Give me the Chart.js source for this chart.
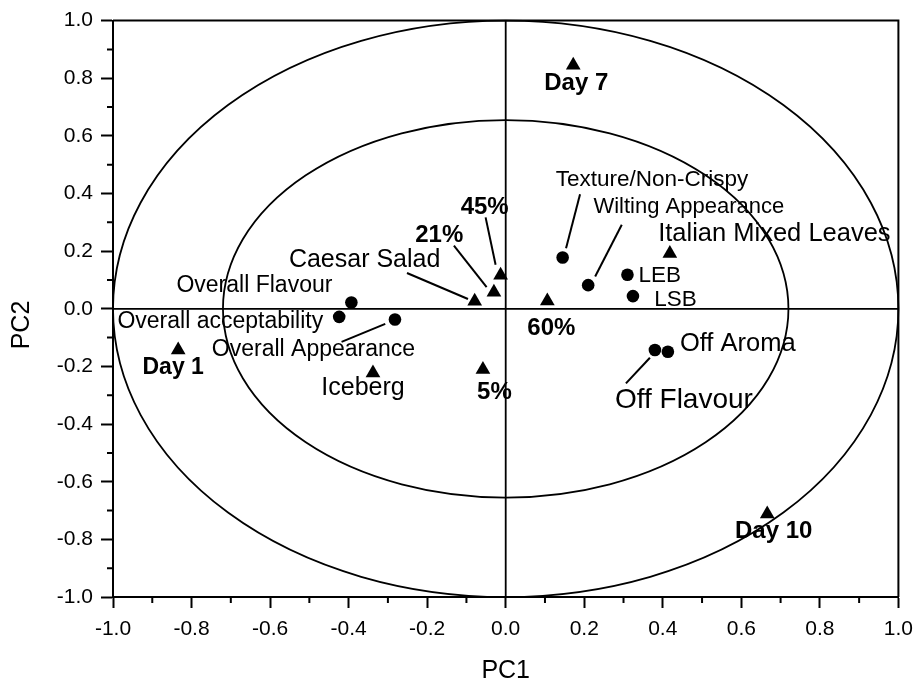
<!DOCTYPE html>
<html>
<head>
<meta charset="utf-8">
<script src="https://cdn.jsdelivr.net/npm/chart.js@4.4.1/dist/chart.umd.min.js"></script>
<style>
  html, body { margin: 0; padding: 0; background: #ffffff; }
  canvas { display: block; }
</style>
</head>
<body>
<canvas id="pca" width="922" height="688"></canvas>
<script>
// Sensory attribute loadings (filled circles)
const attributeNames = ['Overall Flavour', 'Overall acceptability', 'Overall Appearance',
  'Texture/Non-Crispy', 'Wilting Appearance', 'LEB', 'LSB', 'Off Flavour', 'Off Aroma'];
const attributePC1 = [-0.393, -0.424, -0.282, 0.145, 0.210, 0.310, 0.324, 0.380, 0.413];
const attributePC2 = [0.022, -0.028, -0.037, 0.178, 0.082, 0.118, 0.044, -0.143, -0.149];

// Sample scores: storage day, lettuce type, proportion (filled triangles)
const sampleNames = ['Day 1', 'Day 7', 'Day 10', 'Iceberg', 'Caesar Salad',
  'Italian Mixed Leaves', '5%', '21%', '45%', '60%'];
const samplePC1 = [-0.834, 0.172, 0.666, -0.338, -0.079, 0.418, -0.058, -0.030, -0.013, 0.106];
const samplePC2 = [-0.143, 0.845, -0.712, -0.223, 0.026, 0.192, -0.211, 0.057, 0.116, 0.027];

// Axis ticks
const majorTicks = [-1.0, -0.8, -0.6, -0.4, -0.2, 0.0, 0.2, 0.4, 0.6, 0.8, 1.0];
const minorTicks = [-0.9, -0.7, -0.5, -0.3, -0.1, 0.1, 0.3, 0.5, 0.7, 0.9];

// Correlation ellipses: radius along PC1 and along PC2
const ellipseRadiusPC1 = [1.0, 0.72];
const ellipseRadiusPC2 = [1.0, 0.655];

const FONT = '"Liberation Sans", Arial, Helvetica, sans-serif';

// Text placement relative to each marker (pixels)
const labelStyle = {
  'Overall Flavour':       { size: 23, align: 'right',  dx: -19,   dy: -10.3 },
  'Overall acceptability': { size: 23, align: 'right',  dx: -16,   dy: 11 },
  'Overall Appearance':    { size: 23, align: 'center', dx: -81.5, dy: 36.7 },
  'Texture/Non-Crispy':    { size: 22.5, align: 'left', dx: -7,    dy: -72 },
  'Wilting Appearance':    { size: 22, align: 'left',   dx: 5.3,   dy: -72 },
  'LEB':                   { size: 22.5, align: 'left', dx: 11,    dy: 7.7 },
  'LSB':                   { size: 22.5, align: 'left', dx: 21.3,  dy: 10.3 },
  'Off Flavour':           { size: 28, align: 'left',   dx: -40,   dy: 57.7 },
  'Off Aroma':             { size: 25.5, align: 'left', dx: 12,    dy: -0.7 },
  'Day 1':                 { size: 23, bold: true, align: 'center', dx: -5,   dy: 24.3 },
  'Day 7':                 { size: 24, bold: true, align: 'center', dx: 3,    dy: 24.3 },
  'Day 10':                { size: 24, bold: true, align: 'center', dx: 6.4,  dy: 23.7 },
  'Iceberg':               { size: 25, align: 'center', dx: -10,   dy: 22 },
  'Caesar Salad':          { size: 25, align: 'right',  dx: -34.3, dy: -34.3 },
  'Italian Mixed Leaves':  { size: 25.5, align: 'left', dx: -11.7, dy: -12.7 },
  '5%':                    { size: 24, bold: true, align: 'center', dx: 11.5,  dy: 29.6 },
  '21%':                   { size: 24, bold: true, align: 'right',  dx: -30.7, dy: -50.3 },
  '45%':                   { size: 24, bold: true, align: 'center', dx: -15.9, dy: -61.3 },
  '60%':                   { size: 24, bold: true, align: 'center', dx: 4,     dy: 33.6 }
};

// Leader lines from marker to its text: [x1, y1, x2, y2] offsets in pixels
const leaderStyle = {
  '45%':                [-5, -10.7, -15, -58],
  '21%':                [-7.3, -5.3, -40, -46.7],
  'Caesar Salad':       [-6.7, -2.3, -67.7, -28.3],
  'Texture/Non-Crispy': [3.4, -9.3, 17.4, -63.3],
  'Wilting Appearance': [7, -8.7, 33.6, -60.4],
  'Overall Appearance': [-9.7, 4.4, -53.4, 22.4],
  'Off Flavour':        [-5, 7.7, -29, 33.3]
};

const pcaDecor = {
  id: 'pcaDecor',
  beforeDatasetsDraw(chart) {
    const { ctx, chartArea: a, scales: { x, y } } = chart;
    const cx = x.getPixelForValue(0), cy = y.getPixelForValue(0);
    ctx.save();
    ctx.strokeStyle = '#000';

    // ellipses
    ctx.lineWidth = 1.8;
    for (let i = 0; i < ellipseRadiusPC1.length; i++) {
      const rx = x.getPixelForValue(ellipseRadiusPC1[i]) - cx;
      const ry = cy - y.getPixelForValue(ellipseRadiusPC2[i]);
      ctx.beginPath();
      ctx.ellipse(cx, cy, rx, ry, 0, 0, Math.PI * 2);
      ctx.stroke();
    }

    // zero lines
    ctx.lineWidth = 1.8;
    ctx.beginPath();
    ctx.moveTo(a.left, cy); ctx.lineTo(a.right, cy);
    ctx.moveTo(cx, a.top); ctx.lineTo(cx, a.bottom);
    ctx.stroke();

    // top and right frame
    ctx.lineWidth = 2;
    ctx.beginPath();
    ctx.moveTo(a.left, a.top); ctx.lineTo(a.right, a.top); ctx.lineTo(a.right, a.bottom);
    ctx.stroke();

    // minor ticks
    ctx.beginPath();
    minorTicks.forEach(v => {
      const px = x.getPixelForValue(v);
      ctx.moveTo(px, a.bottom); ctx.lineTo(px, a.bottom + 6);
      const py = y.getPixelForValue(v);
      ctx.moveTo(a.left - 6, py); ctx.lineTo(a.left, py);
    });
    ctx.stroke();

    // leader lines
    ctx.lineWidth = 2;
    const drawLeaders = (meta, names) => {
      meta.data.forEach((pt, i) => {
        const l = leaderStyle[names[i]];
        if (!l) return;
        ctx.beginPath();
        ctx.moveTo(pt.x + l[0], pt.y + l[1]);
        ctx.lineTo(pt.x + l[2], pt.y + l[3]);
        ctx.stroke();
      });
    };
    drawLeaders(chart.getDatasetMeta(0), attributeNames);
    drawLeaders(chart.getDatasetMeta(1), sampleNames);
    ctx.restore();
  },
  afterDatasetsDraw(chart) {
    const { ctx } = chart;
    ctx.save();
    ctx.fillStyle = '#000';
    ctx.textBaseline = 'alphabetic';
    const drawLabels = (meta, names) => {
      meta.data.forEach((pt, i) => {
        const s = labelStyle[names[i]];
        if (!s) return;
        ctx.font = (s.bold ? 'bold ' : '') + s.size + 'px ' + FONT;
        ctx.textAlign = s.align;
        ctx.fillText(names[i], pt.x + s.dx, pt.y + s.dy);
      });
    };
    drawLabels(chart.getDatasetMeta(0), attributeNames);
    drawLabels(chart.getDatasetMeta(1), sampleNames);

    // vertical axis title
    ctx.translate(22, 325);
    ctx.rotate(-Math.PI / 2);
    ctx.textAlign = 'center';
    ctx.textBaseline = 'middle';
    ctx.font = '25px ' + FONT;
    ctx.fillText('PC2', 0, 0);
    ctx.restore();
  }
};

const fmt = v => (Math.abs(v) < 1e-9 ? 0 : v).toFixed(1);
const axisCommon = {
  type: 'linear',
  min: -1,
  max: 1,
  afterBuildTicks: s => { s.ticks = majorTicks.map(v => ({ value: v })); },
  grid: { drawOnChartArea: false, drawTicks: true, tickLength: 11, tickColor: '#000', tickWidth: 2, color: '#000' },
  border: { display: true, color: '#000', width: 2 }
};

new Chart(document.getElementById('pca'), {
  type: 'scatter',
  data: {
    datasets: [
      {
        label: 'Attributes',
        data: attributePC1.map((v, i) => ({ x: v, y: attributePC2[i] })),
        pointStyle: 'circle',
        pointRadius: 6.3,
        backgroundColor: '#000',
        borderColor: '#000',
        borderWidth: 0
      },
      {
        label: 'Samples',
        data: samplePC1.map((v, i) => ({ x: v, y: samplePC2[i] })),
        pointStyle: 'triangle',
        pointRadius: 8.5,
        backgroundColor: '#000',
        borderColor: '#000',
        borderWidth: 0
      }
    ]
  },
  options: {
    responsive: false,
    animation: false,
    layout: { padding: { top: 18, right: 21, left: 0, bottom: 0 } },
    plugins: { legend: { display: false }, tooltip: { enabled: false } },
    scales: {
      x: Object.assign({}, axisCommon, {
        position: 'bottom',
        ticks: { color: '#000', font: { family: FONT, size: 21 }, padding: 9, maxRotation: 0, callback: fmt },
        title: { display: true, text: 'PC1', color: '#000', font: { family: FONT, size: 25 }, padding: { top: 0, bottom: 2 } },
        afterFit: s => { s.height = 91; }
      }),
      y: Object.assign({}, axisCommon, {
        position: 'left',
        grid: Object.assign({}, axisCommon.grid, { tickLength: 12 }),
        ticks: { color: '#000', font: { family: FONT, size: 21 }, padding: 8, callback: fmt },
        afterFit: s => { s.width = 113; }
      })
    }
  },
  plugins: [pcaDecor]
});
</script>
</body>
</html>
